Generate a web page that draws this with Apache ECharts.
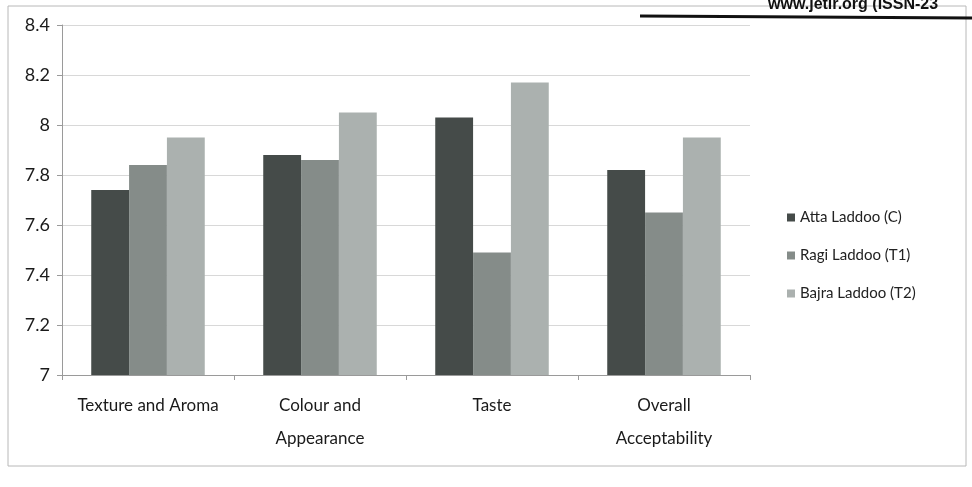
<!DOCTYPE html>
<html>
<head>
<meta charset="utf-8">
<script src="https://cdn.jsdelivr.net/npm/echarts@6/dist/echarts.min.js"></script>
<style>
  html, body { margin: 0; padding: 0; background: #ffffff; }
  #chart { width: 972px; height: 487px; }
</style>
</head>
<body>
<div id="chart"></div>
<script>
// Sensory scores of the three laddoo variants
const categories = ['Texture and Aroma', 'Colour and\nAppearance', 'Taste', 'Overall\nAcceptability'];
const seriesNames = ['Atta Laddoo (C)', 'Ragi Laddoo (T1)', 'Bajra Laddoo (T2)'];
const attaScores = [7.74, 7.88, 8.03, 7.82];
const ragiScores = [7.84, 7.86, 7.49, 7.65];
const bajraScores = [7.95, 8.05, 8.17, 7.95];
const yTicks = { min: 7, max: 8.4, interval: 0.2 };

const colors = ['#454b49', '#858c89', '#abb1af'];
const fontFamily = 'Lato, "Open Sans", sans-serif';

const chart = echarts.init(document.getElementById('chart'));
chart.setOption({
  animation: false,
  backgroundColor: '#ffffff',
  color: colors,
  grid: { left: 62, right: 222, top: 25, bottom: 112 },
  legend: {
    orient: 'vertical',
    left: 782,
    top: 205,
    itemWidth: 8,
    itemHeight: 8,
    itemGap: 23,
    icon: 'rect',
    textStyle: { fontFamily, fontSize: 15, color: '#222' },
    data: seriesNames
  },
  xAxis: {
    type: 'category',
    data: categories,
    axisLine: { lineStyle: { color: '#9a9a9a' } },
    axisTick: { show: true, alignWithLabel: false, lineStyle: { color: '#9a9a9a' } },
    axisLabel: {
      fontFamily, fontSize: 17, color: '#1a1a1a', margin: 14, lineHeight: 33,
      interval: 0
    }
  },
  yAxis: {
    type: 'value',
    min: yTicks.min,
    max: yTicks.max,
    interval: yTicks.interval,
    axisLine: { show: true, lineStyle: { color: '#9a9a9a' } },
    axisTick: { show: true, length: 5, lineStyle: { color: '#9a9a9a' } },
    splitLine: { lineStyle: { color: '#d8d8d8' } },
    axisLabel: {
      fontFamily, fontSize: 18, color: '#1a1a1a', margin: 12,
      formatter: v => String(Math.round(v * 10) / 10)
    }
  },
  series: [
    { name: seriesNames[0], type: 'bar', data: attaScores, barGap: '0%', barCategoryGap: '34%' },
    { name: seriesNames[1], type: 'bar', data: ragiScores, barGap: '0%', barCategoryGap: '34%' },
    { name: seriesNames[2], type: 'bar', data: bajraScores, barGap: '0%', barCategoryGap: '34%' }
  ],
  graphic: [
    // chart frame
    { type: 'rect', shape: { x: 8, y: 6, width: 958, height: 460 },
      style: { fill: 'none', stroke: '#b8b8b8', lineWidth: 1 } },
    // journal header rule and text
    { type: 'line', shape: { x1: 640, y1: 16, x2: 972, y2: 18 },
      style: { stroke: '#111', lineWidth: 3 } },
    { type: 'text', left: 768, top: -3,
      style: { text: 'www.jetir.org (ISSN-23', fontFamily: '"Liberation Sans", Arial, sans-serif',
               fontSize: 16, fontWeight: 'bold', fill: '#111' } }
  ]
});
</script>
</body>
</html>
